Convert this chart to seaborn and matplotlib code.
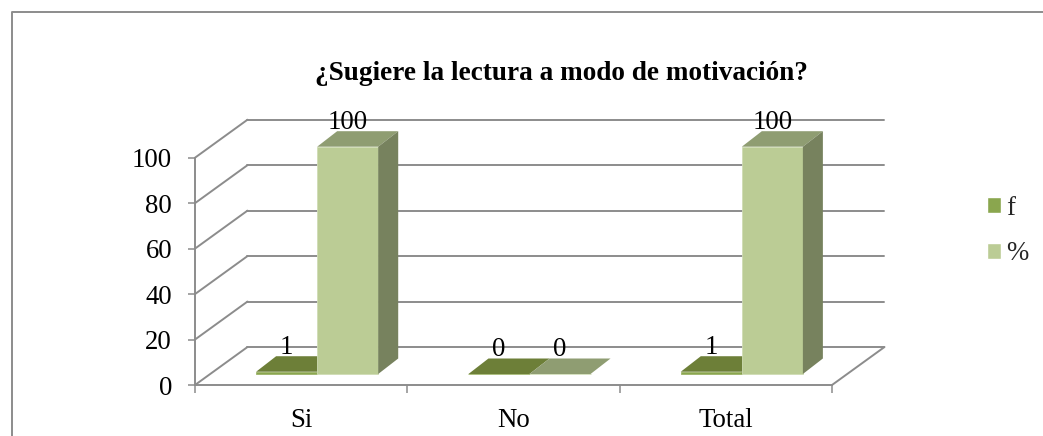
import matplotlib
matplotlib.use("Agg")
import matplotlib.pyplot as plt
from matplotlib.lines import Line2D
from matplotlib.patches import Patch, Polygon
from matplotlib.transforms import Affine2D, IdentityTransform
import pandas as pd
import seaborn as sns

# Datos
categorias = ["Si", "No", "Total"]
valores_f = [1, 0, 1]
valores_pct = [100, 0, 100]
series = ["f", "%"]
ticks_y = [0, 20, 40, 60, 80, 100]
titulo = "¿Sugiere la lectura a modo de motivación?"

# Colores de cada serie: frente, tapa, lateral y borde
colores = {
    "f": ("#8aa64e", "#6d7f38", "#5f7030", "#9db368"),
    "%": ("#bbcc95", "#8f9d72", "#77825e", "#cfdcb4"),
}
gris = "#8c8c8c"

ANCHO, ALTO = 1043, 436
# desplazamientos en pixeles de la perspectiva
FONDO = (52.5, 38)
BARRA = (16, 11)
PROF = (20, 15.5)
LETRA = 19.3

sns.set_theme(style="white")
plt.rcParams["font.family"] = ["Liberation Serif", "DejaVu Serif"]

tabla = pd.DataFrame({
    "categoria": categorias * 2,
    "serie": ["f"] * 3 + ["%"] * 3,
    "valor": valores_f + valores_pct,
})

fig = plt.figure(figsize=(ANCHO / 100, ALTO / 100), dpi=100)
ax = fig.add_axes([195 / ANCHO, (ALTO - 385) / ALTO, 637 / ANCHO, 227.3 / ALTO])

sns.barplot(
    data=tabla, x="categoria", y="valor", hue="serie", hue_order=series,
    palette={s: colores[s][0] for s in series}, width=0.575, gap=0,
    saturation=1, errorbar=None, legend=False, ax=ax,
)
ax.set_xlim(-0.5, 2.5)
ax.set_ylim(0, 100)
ax.set_xlabel("")
ax.set_ylabel("")

# Ejes y marcas
ax.set_yticks(ticks_y)
ax.set_xticks(range(len(categorias)))
ax.set_xticklabels(categorias)
ax.set_xticks([-0.5, 0.5, 1.5, 2.5], minor=True)
ax.tick_params(axis="y", left=True, labelsize=LETRA, length=5, width=1.1, color=gris, pad=11.5, labelcolor="black")
ax.tick_params(axis="x", which="major", bottom=False, labelsize=LETRA, length=0, pad=16.5, labelcolor="black")
ax.tick_params(axis="x", which="minor", bottom=True, length=6, width=1.1, color=gris)
sns.despine(ax=ax)
for lado in ["left", "bottom"]:
    ax.spines[lado].set_color(gris)
    ax.spines[lado].set_linewidth(1.4)
ax.patch.set_alpha(0)


def px(x, y):
    return ax.transData.transform((x, y))


def linea(p, q):
    ax.add_line(Line2D([p[0], q[0]], [p[1], q[1]], color=gris, lw=1.4,
                       transform=IdentityTransform(), clip_on=False, zorder=1))


def poligono(puntos, color, z):
    ax.add_patch(Polygon(puntos, closed=True, facecolor=color, edgecolor="none",
                         transform=IdentityTransform(), clip_on=False, zorder=z))


# Pared del fondo y piso
for v in ticks_y:
    izq = px(-0.5, v)
    der = px(2.5, v)
    fondo_izq = izq + FONDO
    linea(izq, fondo_izq)
    linea(fondo_izq, der + FONDO)
linea(px(2.5, 0), px(2.5, 0) + FONDO)

# Barras con volumen, corridas hacia el fondo
mover = ax.transData + Affine2D().translate(*BARRA)
for nivel, (cont, serie) in enumerate(zip(ax.containers, series)):
    frente, tapa, lateral, borde = colores[serie]
    for barra, valor in zip(cont.patches, tabla.loc[tabla["serie"] == serie, "valor"]):
        x0, x1 = barra.get_x(), barra.get_x() + barra.get_width()
        barra.set_transform(mover)
        barra.set_clip_on(False)
        barra.set_zorder(4 + nivel)
        barra.set_edgecolor(borde)
        barra.set_linewidth(0.6)
        a = px(x0, valor) + BARRA
        b = px(x1, valor) + BARRA
        c = px(x1, 0) + BARRA
        poligono([a, b, b + PROF, a + PROF], tapa, 4 + nivel)
        poligono([b, c, c + PROF, b + PROF], lateral, 4 + nivel)
        ax.annotate(str(valor), xy=((x0 + x1) / 2, valor), xycoords="data",
                    xytext=(BARRA[0], BARRA[1] + 18), textcoords="offset pixels",
                    ha="center", va="baseline", fontsize=LETRA, color="black",
                    annotation_clip=False, zorder=8)

# Leyenda
marcas = [Patch(facecolor=colores[s][0], label=s) for s in series]
fig.legend(handles=marcas, loc="center left", bbox_to_anchor=(980 / ANCHO, (ALTO - 231) / ALTO),
           frameon=False, fontsize=LETRA, handlelength=0.52, handleheight=0.52,
           handletextpad=0.22, labelspacing=0.775, borderpad=0, borderaxespad=0.25)

fig.text(561.5 / ANCHO, (ALTO - 80) / ALTO, titulo, ha="center", va="baseline",
         fontsize=19.65, fontweight="bold", color="black")

# Marco recortado del grafico
fig.add_artist(Line2D([11.5 / ANCHO, 11.5 / ANCHO, 1], [0, (ALTO - 12.5) / ALTO, (ALTO - 12.5) / ALTO],
                      color=gris, lw=1.4))

fig.savefig("out.png", dpi=100)
